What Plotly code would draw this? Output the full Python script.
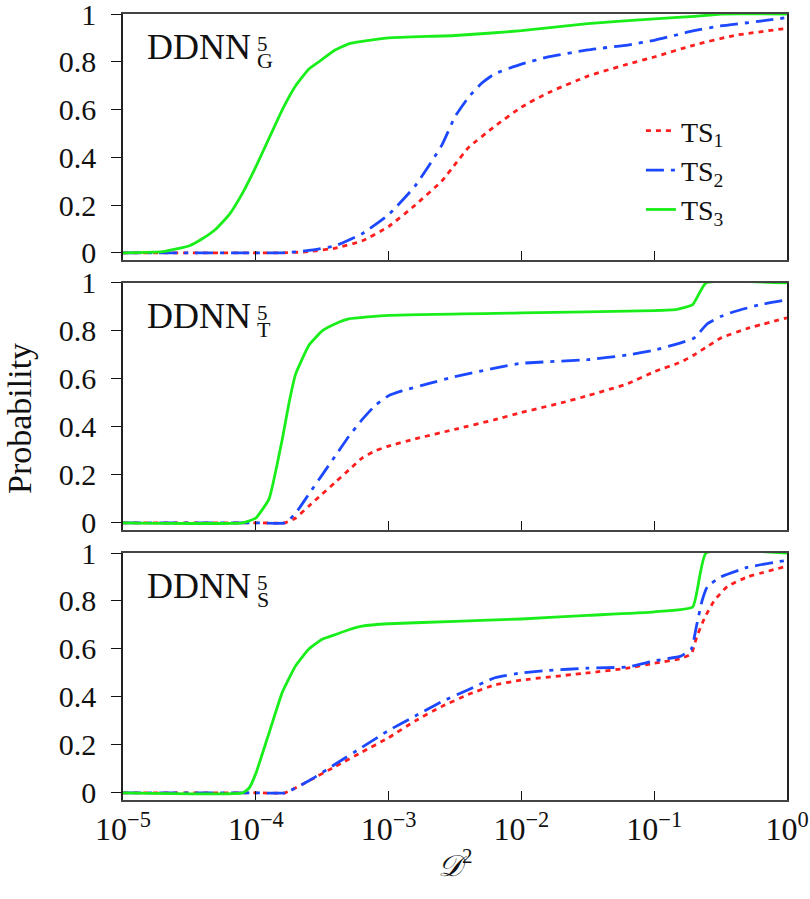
import plotly.graph_objects as go

# ---------------- data (log10 of D^2, probability) ----------------
g_ts1_x = [-5, -4.5, -4.0, -3.8, -3.6, -3.4, -3.2, -3.0, -2.8, -2.6, -2.5, -2.4, -2.2, -2.0, -1.8, -1.5, -1.2, -1.0, -0.7, -0.4, 0]
g_ts1_y = [0, 0, 0, 0, 0.005, 0.02, 0.05, 0.11, 0.2, 0.3, 0.37, 0.44, 0.53, 0.61, 0.67, 0.74, 0.79, 0.82, 0.87, 0.91, 0.94]
g_ts2_x = [-5, -4.5, -4.0, -3.8, -3.6, -3.4, -3.2, -3.0, -2.8, -2.6, -2.5, -2.4, -2.3, -2.2, -2.0, -1.8, -1.5, -1.2, -1.0, -0.7, -0.5, -0.2, 0]
g_ts2_y = [0, 0, 0, 0, 0.01, 0.03, 0.08, 0.16, 0.28, 0.45, 0.57, 0.65, 0.71, 0.75, 0.79, 0.82, 0.85, 0.87, 0.89, 0.93, 0.95, 0.97, 0.985]
g_ts3_x = [-5, -4.7, -4.5, -4.4, -4.3, -4.2, -4.1, -4.0, -3.9, -3.8, -3.7, -3.6, -3.5, -3.4, -3.3, -3.2, -3.0, -2.5, -2.0, -1.5, -1.0, -0.7, -0.5, 0]
g_ts3_y = [0, 0.005, 0.03, 0.06, 0.1, 0.16, 0.25, 0.36, 0.48, 0.6, 0.7, 0.77, 0.81, 0.85, 0.875, 0.885, 0.9, 0.91, 0.93, 0.96, 0.98, 0.99, 1.0, 1.0]

t_ts1_x = [-5, -4.0, -3.78, -3.7, -3.6, -3.5, -3.4, -3.3, -3.2, -3.1, -3.0, -2.8, -2.5, -2.2, -2.0, -1.7, -1.5, -1.2, -1.0, -0.8, -0.7, -0.6, -0.5, -0.3, 0]
t_ts1_y = [0, 0, 0, 0.02, 0.07, 0.12, 0.17, 0.22, 0.27, 0.3, 0.32, 0.35, 0.39, 0.43, 0.46, 0.5, 0.53, 0.58, 0.63, 0.67, 0.7, 0.735, 0.77, 0.81, 0.855]
t_ts2_x = [-5, -4.0, -3.78, -3.7, -3.6, -3.5, -3.4, -3.3, -3.2, -3.1, -3.0, -2.9, -2.7, -2.5, -2.2, -2.0, -1.5, -1.2, -1.0, -0.8, -0.7, -0.6, -0.5, -0.4, -0.2, 0]
t_ts2_y = [0, 0, 0, 0.04, 0.12, 0.2, 0.28, 0.36, 0.43, 0.49, 0.53, 0.55, 0.58, 0.61, 0.645, 0.665, 0.68, 0.7, 0.72, 0.75, 0.77, 0.83, 0.86, 0.88, 0.91, 0.93]
t_ts3_x = [-5, -4.1, -4.0, -3.9, -3.8, -3.75, -3.7, -3.6, -3.5, -3.4, -3.3, -3.0, -2.0, -1.0, -0.83, -0.71, -0.61, 0]
t_ts3_y = [0, 0, 0.02, 0.1, 0.35, 0.5, 0.62, 0.74, 0.8, 0.83, 0.85, 0.865, 0.875, 0.885, 0.89, 0.91, 1.0, 1.0]

s_ts1_x = [-5, -4.0, -3.78, -3.6, -3.4, -3.2, -3.0, -2.8, -2.6, -2.4, -2.2, -2.0, -1.5, -1.2, -1.0, -0.8, -0.72, -0.68, -0.62, -0.55, -0.45, -0.3, 0]
s_ts1_y = [0, 0, 0, 0.05, 0.11, 0.17, 0.23, 0.3, 0.36, 0.41, 0.45, 0.47, 0.5, 0.52, 0.54, 0.56, 0.58, 0.65, 0.73, 0.8, 0.86, 0.9, 0.945]
s_ts2_x = [-5, -4.0, -3.78, -3.6, -3.4, -3.2, -3.0, -2.8, -2.6, -2.4, -2.2, -2.0, -1.8, -1.5, -1.2, -1.0, -0.8, -0.72, -0.68, -0.64, -0.6, -0.5, -0.3, 0]
s_ts2_y = [0, 0, 0, 0.05, 0.12, 0.19, 0.26, 0.32, 0.38, 0.43, 0.48, 0.5, 0.51, 0.52, 0.525, 0.55, 0.57, 0.6, 0.7, 0.8, 0.86, 0.9, 0.94, 0.97]
s_ts3_x = [-5, -4.1, -4.05, -4.0, -3.9, -3.8, -3.7, -3.6, -3.5, -3.4, -3.3, -3.2, -3.0, -2.5, -2.0, -1.5, -1.0, -0.71, -0.61, 0]
s_ts3_y = [0, 0, 0.02, 0.08, 0.25, 0.42, 0.53, 0.6, 0.64, 0.66, 0.68, 0.695, 0.705, 0.715, 0.725, 0.74, 0.755, 0.775, 1.0, 1.0]

series_names = ["TS<sub>1</sub>", "TS<sub>2</sub>", "TS<sub>3</sub>"]
panel_labels = ["G", "T", "S"]
x_tick_vals = [1e-5, 1e-4, 1e-3, 1e-2, 1e-1, 1]
x_tick_text = ["10<sup>−5</sup>", "10<sup>−4</sup>", "10<sup>−3</sup>", "10<sup>−2</sup>", "10<sup>−1</sup>", "10<sup>0</sup>"]
y_tick_vals = [0, 0.2, 0.4, 0.6, 0.8, 1]
y_tick_text = ["0", "0.2", "0.4", "0.6", "0.8", "1"]

panels = [
    [(g_ts1_x, g_ts1_y), (g_ts2_x, g_ts2_y), (g_ts3_x, g_ts3_y)],
    [(t_ts1_x, t_ts1_y), (t_ts2_x, t_ts2_y), (t_ts3_x, t_ts3_y)],
    [(s_ts1_x, s_ts1_y), (s_ts2_x, s_ts2_y), (s_ts3_x, s_ts3_y)],
]

colors = ["#ff1e1e", "#1c48ff", "#1aee1a"]
dashes = ["5px,5px", "18px,7px,4px,7px", "solid"]
FONT = "Liberation Serif"
INK = "#111"

fig = go.Figure()
domains = [[0.687, 1.0], [0.3435, 0.6578], [0.0, 0.3142]]

for p, data in enumerate(panels):
    ax = "" if p == 0 else str(p + 1)
    for s, (xs, ys) in enumerate(data):
        fig.add_trace(go.Scatter(
            x=[10 ** v for v in xs], y=ys, mode="lines",
            name=series_names[s], showlegend=(p == 0),
            line=dict(color=colors[s], width=2.8, dash=dashes[s], shape="spline", smoothing=0.4),
            xaxis="x" + ax, yaxis="y" + ax,
        ))

common_x = dict(type="log", range=[-5, 0], showgrid=False, zeroline=False, automargin=False,
                showline=True, linecolor="#444", linewidth=1.6, mirror=True,
                ticks="inside", ticklen=9, tickwidth=1.3, tickcolor=INK,
                ticklabeloverflow="allow",
                tickvals=x_tick_vals, ticktext=x_tick_text)
common_y = dict(range=[-0.03, 1.0], showgrid=False, zeroline=False, automargin=False,
                showline=True, linecolor="#222", linewidth=1.6, mirror=True,
                ticks="outside", ticklen=10, tickwidth=1.3, tickcolor=INK,
                ticklabelstandoff=9, ticklabeloverflow="allow",
                tickvals=y_tick_vals, ticktext=y_tick_text,
                tickfont=dict(family=FONT, size=30, color=INK))

layout = dict(
    template="none",
    width=810, height=899,
    margin=dict(l=123, r=23, t=14, b=99),
    plot_bgcolor="white", paper_bgcolor="white",
    font=dict(family=FONT, size=28, color=INK),
    showlegend=True,
    legend=dict(x=0.78, y=0.883, xanchor="left", yanchor="top",
                font=dict(family=FONT, size=28, color=INK),
                bgcolor="rgba(0,0,0,0)", tracegroupgap=0),
)
for p in range(3):
    ax = "" if p == 0 else str(p + 1)
    xa = dict(common_x, anchor="y" + ax)
    if p < 2:
        xa["showticklabels"] = False
        xa["matches"] = "x3"
    else:
        xa["tickfont"] = dict(family=FONT, size=32, color=INK)
    layout["xaxis" + ax] = xa
    layout["yaxis" + ax] = dict(common_y, domain=domains[p], anchor="x" + ax)

fig.update_layout(**layout)

annotations = []
for p in range(3):
    top_paper = domains[p][1]
    annotations.append(dict(text="DDNN", x=0, y=top_paper, xref="paper", yref="paper",
                            xanchor="left", yanchor="top", xshift=22, yshift=-11, showarrow=False,
                            font=dict(family=FONT, size=36, color=INK)))
    annotations.append(dict(text="5", x=0, y=top_paper, xref="paper", yref="paper",
                            xanchor="left", yanchor="top", xshift=132, yshift=-16, showarrow=False,
                            font=dict(family=FONT, size=21, color=INK)))
    annotations.append(dict(text=panel_labels[p], x=0, y=top_paper, xref="paper", yref="paper",
                            xanchor="left", yanchor="top", xshift=132, yshift=-32, showarrow=False,
                            font=dict(family=FONT, size=22, color=INK)))
annotations.append(dict(text="Probability", x=0, y=0.5, xref="paper", yref="paper",
                        xshift=-104, yshift=-12, textangle=-90, showarrow=False,
                        xanchor="center", yanchor="middle",
                        font=dict(family=FONT, size=34, color=INK)))
annotations.append(dict(text="<i>𝒟</i><sup>2</sup>", x=0.5, y=0, xref="paper", yref="paper",
                        yshift=-63, showarrow=False, xanchor="center", yanchor="middle",
                        font=dict(family=FONT, size=30, color=INK)))
fig.update_layout(annotations=annotations)

fig.write_html("out.html")
